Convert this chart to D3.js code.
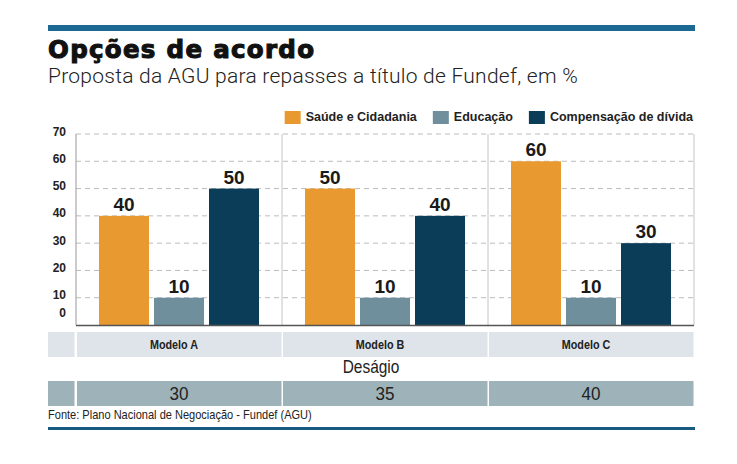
<!DOCTYPE html>
<html>
<head>
<meta charset="utf-8">
<script src="https://cdn.jsdelivr.net/npm/d3@7"></script>
<style>
  body { margin: 0; background: #fff; }
  svg { display: block; }
</style>
</head>
<body>
<svg width="737" height="464"></svg>
<script>
// data
const models = ["Modelo A", "Modelo B", "Modelo C"];
const seriesNames = ["Saúde e Cidadania", "Educação", "Compensação de dívida"];
const saude = [40, 50, 60];
const educacao = [10, 10, 10];
const compensacao = [50, 40, 30];
const desagio = [30, 35, 40];
const yTicks = [0, 10, 20, 30, 40, 50, 60, 70];

const colors = ["#e8992f", "#6f8f9c", "#0b3c58"];
const sans = "'Liberation Sans', Arial, sans-serif";

const svg = d3.select("svg");
const left = 48, right = 695;

const x0 = d3.scaleBand().domain(models).range([76, 694]);
const x1 = d3.scaleBand().domain(seriesNames).range([0, x0.bandwidth()])
    .paddingInner(5 / 55).paddingOuter(0.418);
const y = d3.scaleLinear().domain([0, 70]).range([325, 134]);

var values = [saude, educacao, compensacao];
var rows = models.map((m, i) => ({
    model: m,
    items: seriesNames.map((s, j) => ({ name: s, value: values[j][i], color: colors[j] }))
}));

// condensed look: squeeze an ordinary sans horizontally
var squeezed = function(sel, x, yy, f) {
    return sel.attr("transform", "translate(" + x + "," + yy + ") scale(" + f + ",1)");
};

// top and bottom rules
svg.append("rect").attr("x", left).attr("y", 25).attr("width", right - left).attr("height", 6).attr("fill", "#1c6a93");
svg.append("rect").attr("x", left).attr("y", 427).attr("width", right - left).attr("height", 3).attr("fill", "#195a80");

// title + subtitle
svg.append("text").attr("x", left).attr("y", 57.5)
    .style("font-family", "'DejaVu Sans', sans-serif").style("font-weight", "bold")
    .style("font-size", "24.5px").style("letter-spacing", "1.3px")
    .attr("stroke", "#111").attr("stroke-width", 1.1)
    .attr("fill", "#111").text("Opções de acordo");
svg.append("text").attr("x", left).attr("y", 83)
    .style("font-family", "Roboto, sans-serif").style("font-weight", 300)
    .style("font-size", "21px").style("letter-spacing", "0.25px").attr("fill", "#222")
    .text("Proposta da AGU para repasses a título de Fundef, em %");

// legend, laid out from the right edge
const legend = svg.append("g");
var lx = 693;
seriesNames.slice().reverse().forEach(function(name, k) {
    var j = seriesNames.length - 1 - k;
    var t = legend.append("text").attr("y", 121)
        .style("font-family", sans).style("font-weight", "bold")
        .style("font-size", "12.5px").attr("fill", "#222").text(name);
    var w = t.node().getComputedTextLength();
    t.attr("x", lx - w);
    legend.append("rect").attr("x", lx - w - 21).attr("y", 111)
        .attr("width", 16).attr("height", 13).attr("fill", colors[j]);
    lx = lx - w - 21 - 16;
});

// gridlines
const chart = svg.append("g");
chart.selectAll(".grid").data(yTicks.filter(d => d > 0)).enter()
    .append("line").attr("class", "grid")
    .attr("x1", 76).attr("x2", 694)
    .attr("y1", d => y(d)).attr("y2", d => y(d))
    .attr("stroke", "#bcbcbc").attr("stroke-dasharray", "5,4");

// panel separators
chart.selectAll(".sep").data(models.slice(1)).enter()
    .append("line").attr("class", "sep")
    .attr("x1", d => x0(d)).attr("x2", d => x0(d))
    .attr("y1", y(70)).attr("y2", y(0))
    .attr("stroke", "#c4c4c4");
chart.append("line").attr("x1", 694).attr("x2", 694).attr("y1", y(70)).attr("y2", y(0)).attr("stroke", "#c4c4c4");
chart.append("line").attr("x1", 76).attr("x2", 76).attr("y1", y(70)).attr("y2", y(0)).attr("stroke", "#a8a8a8").attr("stroke-width", 1.2);

// y labels
chart.selectAll(".ylab").data(yTicks).enter()
    .append("text").attr("class", "ylab")
    .attr("x", 66).attr("y", d => d === 0 ? y(d) - 8 : y(d) + 1.5)
    .attr("text-anchor", "end")
    .style("font-family", sans).style("font-weight", "bold")
    .style("font-size", "12px").attr("fill", "#222")
    .text(d => d);

// bars
const groups = chart.selectAll(".group").data(rows).enter()
    .append("g").attr("class", "group")
    .attr("transform", d => "translate(" + x0(d.model) + ",0)");

groups.selectAll("rect").data(d => d.items).enter()
    .append("rect")
    .attr("x", d => x1(d.name)).attr("width", x1.bandwidth())
    .attr("y", d => y(d.value)).attr("height", d => y(0) - y(d.value))
    .attr("fill", d => d.color);

groups.selectAll(".val").data(d => d.items).enter()
    .append("text").attr("class", "val")
    .attr("x", d => x1(d.name) + x1.bandwidth() / 2)
    .attr("y", d => y(d.value) - 5)
    .attr("text-anchor", "middle")
    .style("font-family", sans).style("font-weight", "bold")
    .style("font-size", "19px").attr("fill", "#1a1a1a")
    .text(d => d.value);

// baseline
chart.append("line").attr("x1", 76).attr("x2", 694).attr("y1", y(0) + 0.5).attr("y2", y(0) + 0.5)
    .attr("stroke", "#555").attr("stroke-width", 1.5);

// table below the chart
var tableRow = function(top, h, fill) {
    svg.append("rect").attr("x", left).attr("y", top).attr("width", 74.5 - left).attr("height", h).attr("fill", fill);
    svg.selectAll(null).data(models).enter().append("rect")
        .attr("x", d => x0(d) + 1).attr("y", top)
        .attr("width", x0.step() - 1.5).attr("height", h).attr("fill", fill);
};
tableRow(332, 25, "#dee4ea");
tableRow(381, 25, "#9db2b9");

svg.selectAll(".mlab").data(models).enter()
    .append("text").attr("class", "mlab")
    .each(function(d) { squeezed(d3.select(this), x0(d) + x0.bandwidth() / 2 - 5, 349, 0.9); })
    .attr("text-anchor", "middle")
    .style("font-family", sans).style("font-weight", "bold")
    .style("font-size", "12px").attr("fill", "#222")
    .text(d => d);

squeezed(svg.append("text"), 371, 373, 0.86).attr("text-anchor", "middle")
    .style("font-family", sans).style("font-size", "18px").attr("fill", "#222")
    .text("Deságio");

svg.selectAll(".dlab").data(desagio).enter()
    .append("text").attr("class", "dlab")
    .each(function(d, i) { squeezed(d3.select(this), x0(models[i]) + x0.bandwidth() / 2, 400, 0.95); })
    .attr("text-anchor", "middle")
    .style("font-family", sans)
    .style("font-size", "18px").attr("fill", "#222")
    .text(d => d);

// source
squeezed(svg.append("text"), left, 419, 0.85)
    .style("font-family", sans).style("font-size", "13px").attr("fill", "#222")
    .text("Fonte: Plano Nacional de Negociação - Fundef (AGU)");
</script>
</body>
</html>
